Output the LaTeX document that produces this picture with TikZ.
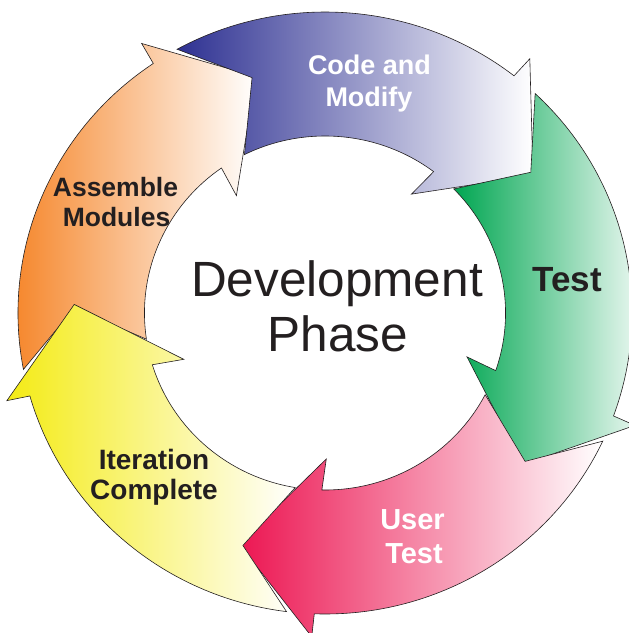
\documentclass[tikz,border=0pt]{standalone}
\usepackage{fontspec}
\setmainfont{Liberation Sans}
\definecolor{cblue}{RGB}{46,49,146}
\definecolor{cgreen}{RGB}{0,166,81}
\definecolor{cpink}{RGB}{236,22,82}
\definecolor{cyellow}{RGB}{244,235,20}
\definecolor{corange}{RGB}{245,128,32}
\definecolor{ink}{RGB}{35,31,32}
\begin{document}
\begin{tikzpicture}[x=1pt,y=1pt,
  arr/.style={draw=ink, line width=0.6pt, line join=miter, miter limit=6, right color=white},
  lbl/.style={anchor=base, inner sep=0pt, font=\bfseries\fontsize{#1}{#1}\selectfont},
  lbl/.default=27,
  title/.style={anchor=base, inner sep=0pt, text=ink, font=\fontsize{49.5}{50}\selectfont}]
\useasboundingbox (0,0) rectangle (629,633);
\clip (0,0) rectangle (629,633);
\def\Ro{301}\def\Ri{177}\def\Rm{246}\def\Rob{324}\def\Rib{146}
\begin{scope}[shift={(325,320)}, xscale=1.02]
  \foreach \P/\c in {106/corange, 34/cblue, -38/cgreen, -110/cpink, -182/cyellow} {
    \pgfmathsetmacro\Q{\P+72}
    \pgfmathsetmacro\To{\Q+12.8}
    \pgfmathsetmacro\Ti{\Q+10.5}
    \pgfmathsetmacro\Tv{\Q+0.9}
    \pgfmathsetmacro\Bo{\P+18}
    \pgfmathsetmacro\Bi{\P+19}
    \pgfmathsetmacro\Ob{\P+17.7}
    \pgfmathsetmacro\Ib{\P+20.5}
    \path[arr, left color=\c]
      (\To:\Ro) arc[start angle=\To, end angle=\Bo, radius=\Ro]
      -- (\Ob:\Rob) -- (\P:\Rm) -- (\Ib:\Rib) -- (\Bi:\Ri)
      arc[start angle=\Bi, end angle=\Ti, radius=\Ri]
      -- (\Tv:\Rm) -- cycle;
  }
\end{scope}
\node[title] (dev) at (337,336) {Development};
\node[title] (phase) at (338,281) {Phase};
\node[lbl=27, text=white] (code1) at (369.5,558) {Code and};
\node[lbl=27, text=white] (code2) at (369,526) {Modify};
\node[lbl=35, text=ink] (test) at (567,341) {Test};
\node[lbl=29, text=white] (user1) at (412.5,103) {User};
\node[lbl=29, text=white] (user2) at (414,70) {Test};
\node[lbl=28, text=ink] (iter1) at (154,163) {Iteration};
\node[lbl=28, text=ink] (iter2) at (154,133) {Complete};
\node[lbl=26.5, text=ink] (asm1) at (115.5,436) {Assemble};
\node[lbl=26.5, text=ink] (asm2) at (116.5,406) {Modules};
\end{tikzpicture}
\end{document}
